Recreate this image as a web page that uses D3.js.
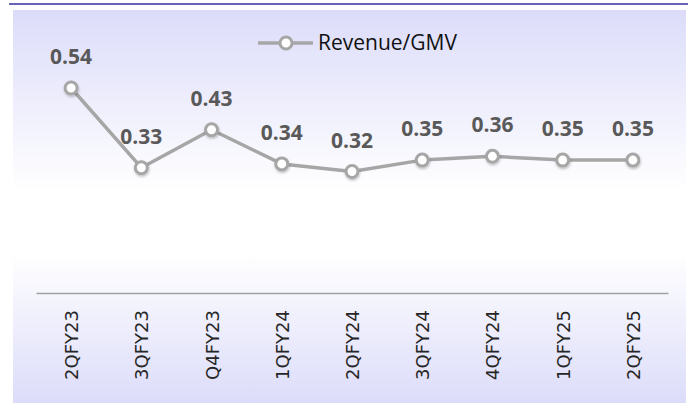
<!DOCTYPE html>
<html>
<head>
<meta charset="utf-8">
<script src="https://cdn.jsdelivr.net/npm/d3@7"></script>
<style>
  html, body { margin: 0; padding: 0; background: #ffffff; }
  svg { display: block; }
</style>
</head>
<body>
<svg id="chart" width="691" height="403"></svg>
<script>
const categories = ["2QFY23", "3QFY23", "Q4FY23", "1QFY24", "2QFY24", "3QFY24", "4QFY24", "1QFY25", "2QFY25"];
const ratioValues = [0.54, 0.33, 0.43, 0.34, 0.32, 0.35, 0.36, 0.35, 0.35];
const ratioLabels = ["0.54", "0.33", "0.43", "0.34", "0.32", "0.35", "0.36", "0.35", "0.35"];
const seriesName = "Revenue/GMV";

const svg = d3.select("#chart");

const defs = svg.append("defs");
const grad = defs.append("linearGradient").attr("id", "bg").attr("x1", 0).attr("y1", 0).attr("x2", 0).attr("y2", 1);
[[0, "#dcdcfa"], [0.46, "#ffffff"], [0.62, "#ffffff"], [1, "#dcdcfa"]].forEach(([o, c]) =>
  grad.append("stop").attr("offset", o).attr("stop-color", c));
const shadow = defs.append("filter").attr("id", "sh").attr("x", "-50%").attr("y", "-50%").attr("width", "200%").attr("height", "200%");
shadow.append("feDropShadow").attr("dx", 0.5).attr("dy", 1.5).attr("stdDeviation", 1.2)
  .attr("flood-color", "#000").attr("flood-opacity", 0.25);

// panel
svg.append("rect").attr("x", 13).attr("y", 10).attr("width", 673).attr("height", 393).attr("fill", "url(#bg)");
// top rule
svg.append("line").attr("x1", 9).attr("x2", 688).attr("y1", 4).attr("y2", 4)
  .attr("stroke", "#6a63b8").attr("stroke-width", 2);

const x = d3.scalePoint().domain(categories).range([36, 668]).padding(0.5);
const y = d3.scaleLinear().domain([0, 0.6]).range([293, 65.2]);

// x axis
const axis = svg.append("g").attr("transform", `translate(0,${y(0)})`)
  .call(d3.axisBottom(x).tickSize(0).tickSizeOuter(0));
axis.select(".domain").attr("stroke", "#a0a0a0").attr("stroke-width", 1.5);
axis.selectAll(".tick text")
  .attr("font-family", "DejaVu Sans, sans-serif")
  .attr("font-size", 18)
  .attr("fill", "#262626")
  .attr("text-anchor", "end")
  .attr("transform", "rotate(-90)")
  .attr("x", -17)
  .attr("y", 0)
  .attr("dy", "0.36em");

// line
const lineGen = d3.line().x((d, i) => x(categories[i])).y(d => y(d));
svg.append("path").datum(ratioValues)
  .attr("d", lineGen)
  .attr("fill", "none")
  .attr("stroke", "#a6a6a6")
  .attr("stroke-width", 3.5)
  .attr("stroke-linejoin", "round");

svg.append("g").selectAll("circle").data(ratioValues).join("circle")
  .attr("cx", (d, i) => x(categories[i]))
  .attr("cy", d => y(d))
  .attr("r", 6)
  .attr("fill", "#ffffff")
  .attr("stroke", "#a6a6a6")
  .attr("stroke-width", 3)
  .attr("filter", "url(#sh)");

svg.append("g").selectAll("text").data(ratioValues).join("text")
  .attr("x", (d, i) => x(categories[i]))
  .attr("y", d => y(d) - 24)
  .attr("text-anchor", "middle")
  .attr("font-family", "Open Sans, sans-serif")
  .attr("font-weight", "bold")
  .attr("font-size", 21)
  .attr("fill", "#595959")
  .text((d, i) => ratioLabels[i]);

// legend
const lg = svg.append("g");
lg.append("line").attr("x1", 258).attr("x2", 313).attr("y1", 43).attr("y2", 43)
  .attr("stroke", "#a6a6a6").attr("stroke-width", 3.5);
lg.append("circle").attr("cx", 286).attr("cy", 43).attr("r", 6)
  .attr("fill", "#fff").attr("stroke", "#a6a6a6").attr("stroke-width", 3);
lg.append("text").attr("x", 318).attr("y", 43).attr("dy", "0.35em")
  .attr("font-family", "Open Sans, sans-serif").attr("font-size", 21)
  .attr("fill", "#111").text(seriesName);
</script>
</body>
</html>
